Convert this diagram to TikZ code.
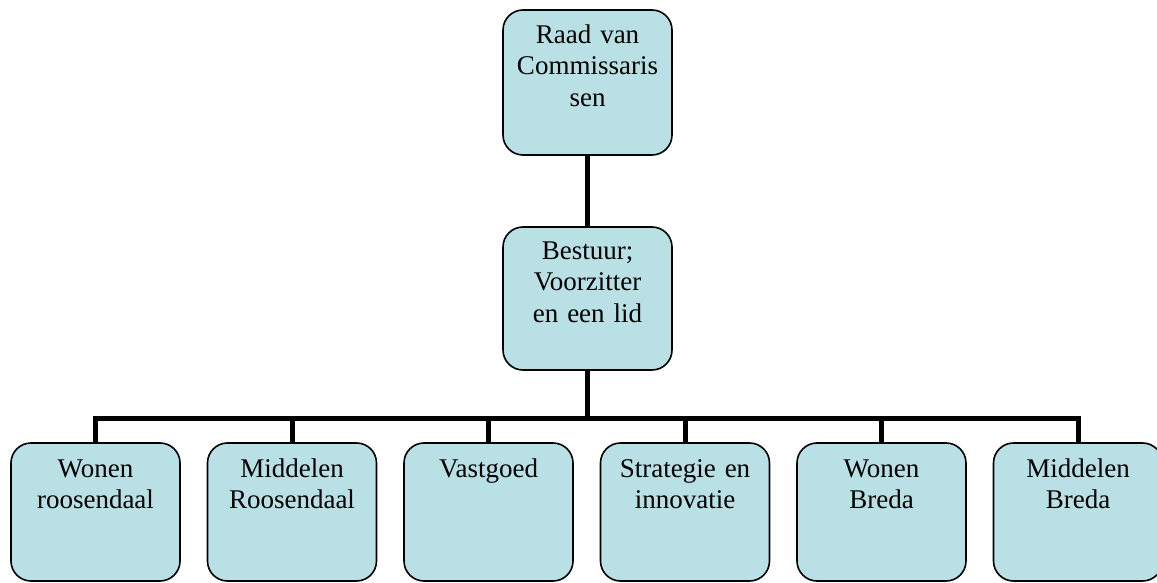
\documentclass[tikz,border=0pt]{standalone}
\usepackage{fontspec}
\setmainfont{Liberation Serif}
\definecolor{boxfill}{RGB}{185,224,228}
\begin{document}
\begin{tikzpicture}[x=1pt,y=-1pt,
  orgbox/.style={draw=black, line width=1.6pt, fill=boxfill, rounded corners=20pt,
    minimum width=169pt, inner sep=0pt},
  lbl/.style={anchor=base, align=center, text width=165pt, inner sep=0pt,
    font=\fontsize{27pt}{31.5pt}\selectfont},
  link/.style={draw=black, line width=5pt}]
\useasboundingbox (0,0) rectangle (1157,583);

% boxes
\node[orgbox, minimum height=145pt] (rvc) at (587.5,82.5) {};
\node[orgbox, minimum height=143pt] (bst) at (587.5,298.5) {};
\foreach \n/\x in {w1/95.5, m1/292, vg/488.5, si/685, w2/881.5, m2/1078}
  \node[orgbox, minimum height=138pt] (\n) at (\x,512) {};

% connectors
\coordinate (bus) at ([yshift=-48pt]bst.south);
\draw[link] (rvc.south) -- (bst.north);
\draw[link] (bst.south) -- (bus);
\draw[link] (w1.north) |- (bus) -| (m2.north);
\foreach \n in {m1, vg, si, w2}
  \draw[link] (\n.north) -- (\n.north |- bus);

% labels
\node[lbl] (t-rvc) at ([yshift=-34pt]rvc.north) {Raad van\\Commissaris\\sen};
\node[lbl] (t-bst) at ([yshift=-33pt]bst.north) {Bestuur;\\Voorzitter\\en een lid};
\node[lbl] (t-w1) at ([yshift=-35pt]w1.north) {Wonen\\roosendaal};
\node[lbl] (t-m1) at ([yshift=-35pt]m1.north) {Middelen\\Roosendaal};
\node[lbl] (t-vg) at ([yshift=-35pt]vg.north) {Vastgoed};
\node[lbl] (t-si) at ([yshift=-35pt]si.north) {Strategie en\\innovatie};
\node[lbl] (t-w2) at ([yshift=-35pt]w2.north) {Wonen\\Breda};
\node[lbl] (t-m2) at ([yshift=-35pt]m2.north) {Middelen\\Breda};
\end{tikzpicture}
\end{document}
